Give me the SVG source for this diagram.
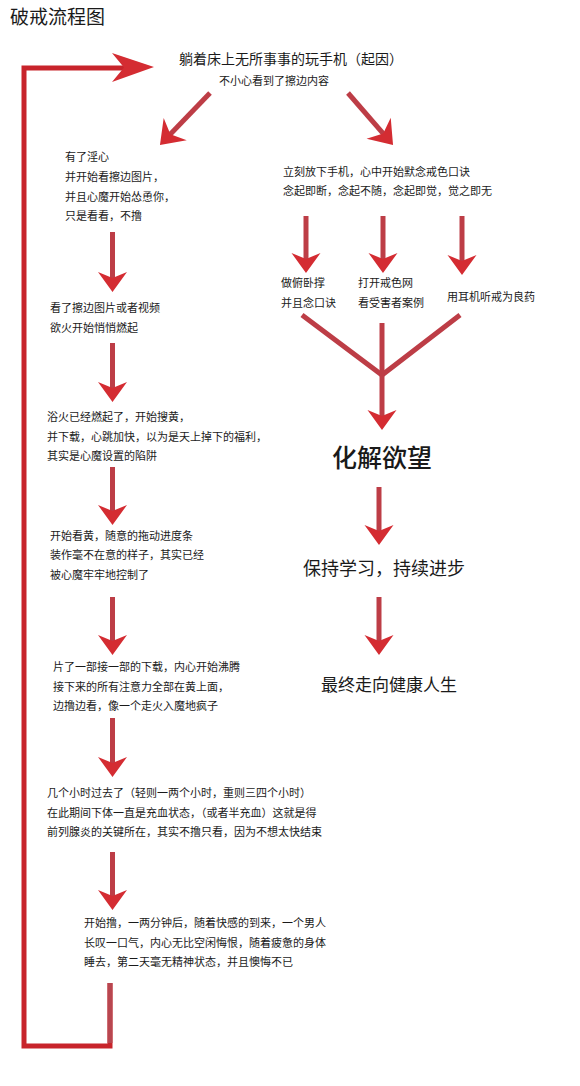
<svg xmlns="http://www.w3.org/2000/svg" width="580" height="1086" viewBox="0 0 580 1086">
<defs>
<style>
text{font-family:"Noto Sans CJK SC","Noto Sans CJK JP",sans-serif;fill:#1a1a1a}
.s{font-size:11px}
.shaft{stroke:#bd3d46;stroke-width:5;fill:none;stroke-linecap:butt}
.loop{stroke:#c8242b;stroke-width:5;fill:none;stroke-linejoin:miter}
</style>
<marker id="ah" markerUnits="userSpaceOnUse" viewBox="-22 -16 24 32" markerWidth="24" markerHeight="32" refX="-9" refY="0" orient="auto">
<path d="M0,0 L-20,-14.5 L-14,0 L-20,14.5 Z" fill="#d42c32"/>
</marker>
<marker id="ahd" markerUnits="userSpaceOnUse" viewBox="-24 -18 26 36" markerWidth="26" markerHeight="36" refX="-10" refY="0" orient="auto">
<path d="M0,0 L-22,-16 L-15,0 L-22,16 Z" fill="#d42c32"/>
</marker>
</defs>
<rect width="580" height="1086" fill="#ffffff"/>
<text x="10" y="24" style="font-size:19px">破戒流程图</text>
<g id="connectors">
<path class="loop" d="M110,983 V1046 H24 V68 H124"/>
<path d="M110,983 V1043" stroke="#b84650" stroke-width="5" fill="none"/>
<polygon points="154,67 112,53 124,67.5 112,82" fill="#d42c32"/>
<line class="shaft" x1="210" y1="93" x2="166.9" y2="137.8" stroke-width="6" marker-end="url(#ahd)"/>
<line class="shaft" x1="348" y1="93" x2="386.5" y2="137.4" stroke-width="6" marker-end="url(#ahd)"/>
<line class="shaft" x1="112.5" y1="232" x2="112.5" y2="283" marker-end="url(#ah)"/>
<line class="shaft" x1="112.5" y1="343" x2="112.5" y2="393" marker-end="url(#ah)"/>
<line class="shaft" x1="112.5" y1="467" x2="112.5" y2="516" marker-end="url(#ah)"/>
<line class="shaft" x1="112.5" y1="597" x2="112.5" y2="646" marker-end="url(#ah)"/>
<line class="shaft" x1="112.5" y1="718" x2="112.5" y2="768" marker-end="url(#ah)"/>
<line class="shaft" x1="112.5" y1="852" x2="112.5" y2="901" marker-end="url(#ah)"/>
<line class="shaft" x1="306" y1="216" x2="306" y2="264" marker-end="url(#ah)"/>
<line class="shaft" x1="383" y1="216" x2="383" y2="264" marker-end="url(#ah)"/>
<line class="shaft" x1="462" y1="216" x2="462" y2="266" marker-end="url(#ah)"/>
<path class="shaft" d="M302,315 L382,375 L460,315" stroke-width="6" stroke-linejoin="miter"/>
<line class="shaft" x1="382" y1="323" x2="382" y2="421" marker-end="url(#ah)"/>
<line class="shaft" x1="379" y1="487" x2="379" y2="536" marker-end="url(#ah)"/>
<line class="shaft" x1="379" y1="597" x2="379" y2="646" marker-end="url(#ah)"/>
</g>
<g id="start">
<text x="179" y="64" style="font-size:14px">躺着床上无所事事的玩手机（起因）</text>
<text x="219" y="85" class="s">不小心看到了擦边内容</text>
</g>
<g id="l1">
<text x="65" y="161" class="s">有了淫心</text>
<text x="65" y="181" class="s">并开始看擦边图片，</text>
<text x="65" y="201" class="s">并且心魔开始怂恿你，</text>
<text x="65" y="220" class="s">只是看看，不撸</text>
</g>
<g id="l2">
<text x="50" y="312" class="s">看了擦边图片或者视频</text>
<text x="50" y="332" class="s">欲火开始悄悄燃起</text>
</g>
<g id="l3">
<text x="47" y="421" class="s">浴火已经燃起了，开始搜黄，</text>
<text x="47" y="441" class="s">并下载，心跳加快，以为是天上掉下的福利，</text>
<text x="47" y="460" class="s">其实是心魔设置的陷阱</text>
</g>
<g id="l4">
<text x="50" y="540" class="s">开始看黄，随意的拖动进度条</text>
<text x="50" y="559" class="s">装作毫不在意的样子，其实已经</text>
<text x="50" y="579" class="s">被心魔牢牢地控制了</text>
</g>
<g id="l5">
<text x="53" y="671" class="s">片了一部接一部的下载，内心开始沸腾</text>
<text x="53" y="691" class="s">接下来的所有注意力全部在黄上面，</text>
<text x="53" y="710" class="s">边撸边看，像一个走火入魔地疯子</text>
</g>
<g id="l6">
<text x="47" y="797" class="s">几个小时过去了（轻则一两个小时，重则三四个小时）</text>
<text x="47" y="817" class="s">在此期间下体一直是充血状态，（或者半充血）这就是得</text>
<text x="47" y="836" class="s">前列腺炎的关键所在，其实不撸只看，因为不想太快结束</text>
</g>
<g id="l7">
<text x="84" y="927" class="s">开始撸，一两分钟后，随着快感的到来，一个男人</text>
<text x="84" y="947" class="s">长叹一口气，内心无比空闲悔恨，随着疲惫的身体</text>
<text x="84" y="966" class="s">睡去，第二天毫无精神状态，并且懊悔不已</text>
</g>
<g id="r1">
<text x="283" y="176" class="s">立刻放下手机，心中开始默念戒色口诀</text>
<text x="283" y="195" class="s">念起即断，念起不随，念起即觉，觉之即无</text>
</g>
<g id="r2a">
<text x="281" y="287" class="s">做俯卧撑</text>
<text x="281" y="307" class="s">并且念口诀</text>
</g>
<g id="r2b">
<text x="358" y="287" class="s">打开戒色网</text>
<text x="358" y="307" class="s">看受害者案例</text>
</g>
<g id="r2c">
<text x="447" y="301" class="s">用耳机听戒为良药</text>
</g>
<g id="r3">
<text x="332" y="467" style="font-size:25px;font-weight:500">化解欲望</text>
</g>
<g id="r4">
<text x="303" y="575" style="font-size:18px">保持学习，持续进步</text>
</g>
<g id="r5">
<text x="321" y="691" style="font-size:17px">最终走向健康人生</text>
</g>
</svg>
